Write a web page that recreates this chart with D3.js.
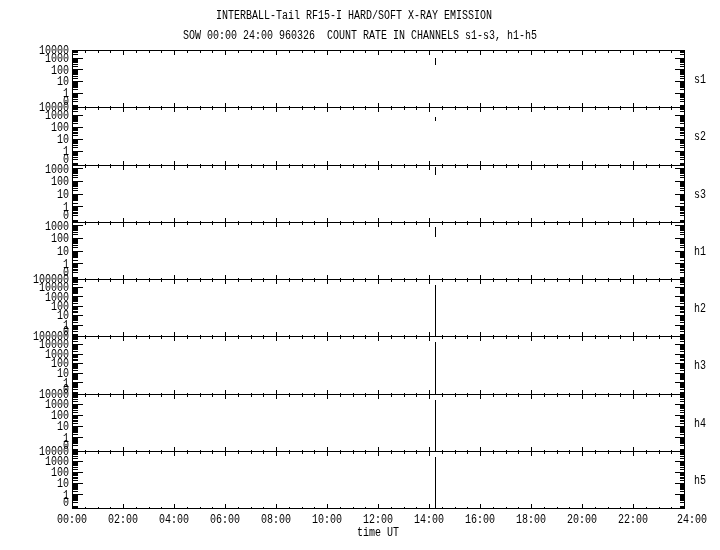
<!DOCTYPE html>
<html>
<head>
<meta charset="utf-8">
<script src="https://d3js.org/d3.v7.min.js"></script>
<style>
  body { margin: 0; background: #fff; }
  svg { will-change: transform; }
  text { font-family: "Liberation Mono", "DejaVu Sans Mono", monospace; fill: #000; }
</style>
</head>
<body>
<script>
var titleLine1 = "INTERBALL-Tail RF15-I HARD/SOFT X-RAY EMISSION";
var titleLine2 = "SOW 00:00 24:00 960326  COUNT RATE IN CHANNELS s1-s3, h1-h5";

var channels = ["s1", "s2", "s3", "h1", "h2", "h3", "h4", "h5"];
// highest labelled decade and log10 of the value at the panel top
var topExp   = [4, 4, 3, 3, 5, 5, 4, 4];
var topLevel = [3.67, 3.67, 3.26, 3.26, 4.84, 4.84, 3.89, 3.89];
var bottomLevel = -1.22;
var zeroLevel = -0.68;

var hourTicks  = [0, 2, 4, 6, 8, 10, 12, 14, 16, 18, 20, 22, 24];
var hourLabels = ["00:00", "02:00", "04:00", "06:00", "08:00", "10:00", "12:00",
                  "14:00", "16:00", "18:00", "20:00", "22:00", "24:00"];

// count rate samples [hour UT, counts]
var s1 = [[14.24, 1030], [14.25, 260]];
var s2 = [[14.24, 725], [14.25, 310]];
var s3 = [[14.24, 1220], [14.25, 275]];
var h1 = [[14.24, 740], [14.25, 123]];
var h2 = [[14.24, 16000], [14.25, 0.05]];
var h3 = [[14.24, 18300], [14.25, 0.05]];
var h4 = [[14.24, 2350], [14.25, 0.05]];
var h5 = [[14.24, 2290], [14.25, 0.05]];
var series = [s1, s2, s3, h1, h2, h3, h4, h5];

var width = 720, height = 550;
var margin = {left: 72, right: 36, top: 50, bottom: 42};
var charW = 6;

var svg = d3.select("body").append("svg")
            .attr("width", width).attr("height", height);

var labels = svg.append("g").attr("class", "labels").style("opacity", 0.999);

function fitText(sel) {
  sel.attr("textLength", function(d){ return this.textContent.length * charW; })
     .attr("lengthAdjust", "spacingAndGlyphs")
     .style("white-space", "pre");
}

labels.append("text").attr("x", 216).attr("y", 15).attr("dy", "0.35em")
   .style("font-size", "12px").text(titleLine1).call(fitText);
labels.append("text").attr("x", 183).attr("y", 35).attr("dy", "0.35em")
   .style("font-size", "12px").text(titleLine2).call(fitText);

var x = d3.scaleLinear().domain([0, 24]).range([margin.left, width - margin.right]);
var panelY = d3.scaleLinear().domain([0, channels.length]).range([margin.top, height - margin.bottom]);

var minorHours = d3.range(0, 24.01, 0.5).filter(function(h){ return h % 2 !== 0; });

channels.forEach(function(ch, i) {
  var top = Math.round(panelY(i)), bottom = Math.round(panelY(i + 1));
  var y = d3.scaleLinear().domain([bottomLevel, topLevel[i]]).range([bottom, top]).clamp(true);
  var yv = function(v){ return y(v > 0 ? Math.log10(v) : zeroLevel); };

  var g = svg.append("g").attr("class", "panel").style("shape-rendering", "crispEdges");

  // frame
  g.append("rect")
   .attr("x", x(0) + 0.5).attr("y", top + 0.5)
   .attr("width", x(24) - x(0)).attr("height", bottom - top)
   .attr("fill", "none").attr("stroke", "#000");

  // time ticks on top and bottom edges
  [[top, 1], [bottom, -1]].forEach(function(e) {
    g.selectAll(null).data(hourTicks).enter().append("line")
     .attr("x1", function(d){ return Math.round(x(d)) + 0.5; })
     .attr("x2", function(d){ return Math.round(x(d)) + 0.5; })
     .attr("y1", e[0] + 0.5).attr("y2", e[0] + 0.5 + e[1] * 4.5)
     .attr("stroke", "#000");
    g.selectAll(null).data(minorHours).enter().append("line")
     .attr("x1", function(d){ return Math.round(x(d)) + 0.5; })
     .attr("x2", function(d){ return Math.round(x(d)) + 0.5; })
     .attr("y1", e[0] + 0.5).attr("y2", e[0] + 0.5 + e[1] * 2)
     .attr("stroke", "#000");
  });

  // log ticks on left and right edges
  var majors = [0].concat(d3.range(0, topExp[i] + 1).map(function(k){ return Math.pow(10, k); }));
  var minors = [];
  d3.range(-2, topExp[i] + 1).forEach(function(k) {
    d3.range(2, 10).forEach(function(m) {
      var lv = Math.log10(m) + k;
      if (lv > bottomLevel && lv < topLevel[i]) minors.push(m * Math.pow(10, k));
    });
  });

  [[x(0), 1], [x(24), -1]].forEach(function(e) {
    g.selectAll(null).data(majors.slice(1)).enter().append("line")
     .attr("x1", e[0] + 0.5).attr("x2", e[0] + 0.5 + e[1] * 10)
     .attr("y1", function(d){ return Math.round(yv(d)) + 0.5; })
     .attr("y2", function(d){ return Math.round(yv(d)) + 0.5; })
     .attr("stroke", "#000");
    g.selectAll(null).data(minors).enter().append("line")
     .attr("x1", e[0] + 0.5).attr("x2", e[0] + 0.5 + e[1] * 5)
     .attr("y1", function(d){ return Math.round(yv(d)) + 0.5; })
     .attr("y2", function(d){ return Math.round(yv(d)) + 0.5; })
     .attr("stroke", "#000");
  });

  labels.selectAll(null).data(majors).enter().append("text")
     .attr("x", x(0) - 3).attr("y", function(d){ return yv(d); })
     .attr("dy", "0.35em").attr("text-anchor", "end")
     .style("font-size", "12px")
     .text(function(d){ return String(d); })
     .call(fitText);

  labels.append("text").attr("x", x(24) + 10).attr("y", (top + bottom) / 2)
     .attr("dy", "0.35em").style("font-size", "12px").text(ch).call(fitText);

  var line = d3.line()
               .x(function(d){ return Math.round(x(d[0])) + 0.5; })
               .y(function(d){ return yv(d[1]); });

  svg.append("path").datum(series[i])
     .attr("d", line)
     .attr("fill", "none").attr("stroke", "#000").attr("stroke-width", 1)
     .style("shape-rendering", "crispEdges");
});

labels.selectAll(".hour").data(hourTicks).enter().append("text")
   .attr("class", "hour")
   .attr("x", function(d, i){ return x(d) + (i === hourTicks.length - 1 ? 8 : 0); })
   .attr("y", 519).attr("dy", "0.35em")
   .attr("text-anchor", "middle")
   .style("font-size", "12px")
   .text(function(d, i){ return hourLabels[i]; })
   .call(fitText);

labels.append("text").attr("x", x(12)).attr("y", 532).attr("dy", "0.35em")
   .attr("text-anchor", "middle").style("font-size", "12px")
   .text("time UT").call(fitText);
</script>
</body>
</html>
